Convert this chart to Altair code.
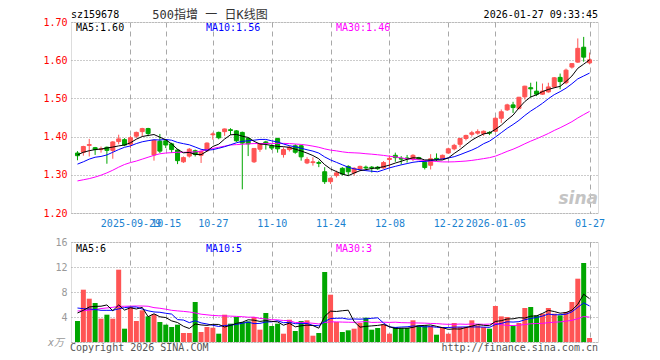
import altair as alt
import pandas as pd

dates = [
    "2025-09-16", "2025-09-17", "2025-09-18", "2025-09-19", "2025-09-22", "2025-09-23", "2025-09-24", "2025-09-25",
    "2025-09-26", "2025-09-29", "2025-09-30",
    "2025-10-09", "2025-10-10", "2025-10-13", "2025-10-14", "2025-10-15", "2025-10-16", "2025-10-17", "2025-10-20",
    "2025-10-21", "2025-10-22", "2025-10-23", "2025-10-24", "2025-10-27", "2025-10-28", "2025-10-29", "2025-10-30",
    "2025-10-31",
    "2025-11-03", "2025-11-04", "2025-11-05", "2025-11-06", "2025-11-07", "2025-11-10", "2025-11-11", "2025-11-12",
    "2025-11-13", "2025-11-14", "2025-11-17", "2025-11-18", "2025-11-19", "2025-11-20", "2025-11-21", "2025-11-24",
    "2025-11-25", "2025-11-26", "2025-11-27", "2025-11-28",
    "2025-12-01", "2025-12-02", "2025-12-03", "2025-12-04", "2025-12-05", "2025-12-08", "2025-12-09", "2025-12-10",
    "2025-12-11", "2025-12-12", "2025-12-15", "2025-12-16", "2025-12-17", "2025-12-18", "2025-12-19", "2025-12-22",
    "2025-12-23", "2025-12-24", "2025-12-25", "2025-12-26", "2025-12-29", "2025-12-30", "2025-12-31",
    "2026-01-05", "2026-01-06", "2026-01-07", "2026-01-08", "2026-01-09", "2026-01-12", "2026-01-13", "2026-01-14",
    "2026-01-15", "2026-01-16", "2026-01-19", "2026-01-20", "2026-01-21", "2026-01-22", "2026-01-23", "2026-01-26",
    "2026-01-27",
]

opens = [
    1.357, 1.359, 1.377, 1.371, 1.366, 1.372, 1.364, 1.387, 1.392, 1.380,
    1.401, 1.413, 1.421, 1.352, 1.388, 1.389, 1.381, 1.365, 1.334, 1.349,
    1.363, 1.351, 1.363, 1.405, 1.411, 1.413, 1.418, 1.415, 1.411, 1.395,
    1.334, 1.367, 1.386, 1.376, 1.395, 1.353, 1.366, 1.376, 1.376, 1.331,
    1.332, 1.332, 1.308, 1.282, 1.298, 1.317, 1.322, 1.305, 1.315, 1.320,
    1.320, 1.320, 1.318, 1.340, 1.351, 1.343, 1.344, 1.342, 1.345, 1.333,
    1.325, 1.343, 1.342, 1.357, 1.368, 1.380, 1.395, 1.406, 1.409, 1.408,
    1.411, 1.414, 1.448, 1.470, 1.483, 1.474, 1.504, 1.528, 1.519, 1.511,
    1.517, 1.530, 1.555, 1.541, 1.582, 1.595, 1.634, 1.593,
]
highs = [
    1.362, 1.376, 1.394, 1.373, 1.374, 1.374, 1.388, 1.405, 1.396, 1.402,
    1.413, 1.423, 1.423, 1.392, 1.407, 1.392, 1.384, 1.368, 1.348, 1.370,
    1.366, 1.364, 1.385, 1.411, 1.413, 1.421, 1.422, 1.417, 1.413, 1.397,
    1.370, 1.383, 1.389, 1.380, 1.397, 1.372, 1.376, 1.380, 1.378, 1.346,
    1.346, 1.337, 1.320, 1.293, 1.311, 1.320, 1.325, 1.320, 1.324, 1.324,
    1.323, 1.323, 1.336, 1.351, 1.358, 1.349, 1.352, 1.354, 1.347, 1.335,
    1.354, 1.356, 1.353, 1.371, 1.381, 1.397, 1.405, 1.415, 1.419, 1.416,
    1.414, 1.451, 1.471, 1.486, 1.491, 1.504, 1.533, 1.541, 1.544, 1.539,
    1.541, 1.556, 1.565, 1.578, 1.592, 1.657, 1.661, 1.620,
]
lows = [
    1.338, 1.350, 1.348, 1.352, 1.358, 1.329, 1.342, 1.380, 1.375, 1.370,
    1.396, 1.401, 1.401, 1.337, 1.357, 1.370, 1.357, 1.328, 1.331, 1.345,
    1.348, 1.331, 1.360, 1.392, 1.393, 1.402, 1.404, 1.386, 1.262, 1.349,
    1.331, 1.360, 1.366, 1.365, 1.358, 1.345, 1.361, 1.355, 1.337, 1.328,
    1.324, 1.320, 1.276, 1.276, 1.293, 1.298, 1.298, 1.298, 1.311, 1.313,
    1.306, 1.313, 1.316, 1.319, 1.334, 1.327, 1.332, 1.336, 1.339, 1.314,
    1.314, 1.336, 1.340, 1.355, 1.364, 1.372, 1.390, 1.400, 1.405, 1.402,
    1.404, 1.412, 1.436, 1.467, 1.462, 1.471, 1.497, 1.502, 1.506, 1.509,
    1.515, 1.527, 1.524, 1.537, 1.578, 1.593, 1.596, 1.589,
]
closes = [
    1.350, 1.374, 1.379, 1.366, 1.368, 1.364, 1.386, 1.394, 1.378, 1.397,
    1.411, 1.421, 1.408, 1.390, 1.362, 1.378, 1.366, 1.337, 1.345, 1.367,
    1.353, 1.361, 1.383, 1.407, 1.397, 1.420, 1.416, 1.389, 1.383, 1.381,
    1.369, 1.381, 1.383, 1.370, 1.368, 1.366, 1.372, 1.359, 1.347, 1.340,
    1.334, 1.330, 1.282, 1.291, 1.305, 1.302, 1.308, 1.317, 1.322, 1.318,
    1.318, 1.316, 1.332, 1.343, 1.345, 1.341, 1.342, 1.351, 1.341, 1.319,
    1.342, 1.341, 1.351, 1.368, 1.377, 1.395, 1.403, 1.410, 1.413, 1.414,
    1.409, 1.448, 1.465, 1.483, 1.476, 1.503, 1.532, 1.525, 1.511, 1.519,
    1.530, 1.554, 1.544, 1.574, 1.591, 1.631, 1.608, 1.601,
]
volumes = [
    3.36, 8.37, 6.93, 6.24, 3.73, 4.37, 3.73, 11.57, 2.13, 5.6,
    3.36, 5.07, 4.1, 4.43, 3.2, 2.77, 2.4, 2.77, 1.44, 1.44,
    6.4, 1.6, 2.4, 2.29, 1.33, 4.37, 2.93, 4.0, 3.2, 3.3,
    4.0, 1.97, 4.64, 2.56, 2.93, 1.33, 3.57, 1.76, 3.36, 3.47,
    1.01, 1.44, 11.2, 7.57, 3.2, 1.6, 1.87, 2.13, 3.04, 3.89,
    1.97, 2.24, 2.83, 1.33, 2.4, 2.24, 2.24, 3.47, 2.67, 2.67,
    2.56, 1.17, 2.4, 1.33, 3.04, 2.4, 2.4, 3.47, 2.67, 2.4,
    2.13, 5.76, 4.1, 4.0, 2.56, 3.04, 5.44, 5.6, 4.27, 4.53,
    5.44, 4.53, 4.27, 4.8, 6.4, 10.13, 12.64, 0.64,
]

# moving-average values at the left edge (their history lies before the chart)
ma5_head = [1.352, 1.359, 1.363, 1.366]
ma10_head = [1.328, 1.334, 1.341, 1.346, 1.348, 1.352, 1.359, 1.366, 1.372]
ma30_head = [1.284, 1.287, 1.290, 1.294, 1.299, 1.305, 1.312, 1.320, 1.327, 1.332,
             1.336, 1.341, 1.346, 1.351, 1.355, 1.357, 1.358, 1.359, 1.359, 1.359,
             1.360, 1.362, 1.366, 1.369, 1.372, 1.375, 1.378, 1.379, 1.380]
vma5_head = [4.64, 5.07, 5.6, 5.7]
vma10_head = [5.44, 5.33, 5.28, 5.2, 5.07, 5.07, 5.07, 5.3, 5.5]
vma30_head = [4.96, 5.02, 5.1, 5.2, 5.35, 5.45, 5.55, 5.7, 5.72, 5.74,
              5.76, 5.76, 5.72, 5.5, 5.4, 5.25, 5.07, 4.98, 4.9, 4.8,
              4.65, 4.45, 4.35, 4.25, 4.2, 4.17, 4.14, 4.1, 4.05]

tick_dates = ["2025-09-29", "2025-10-15", "2025-10-27", "2025-11-10", "2025-11-24",
              "2025-12-08", "2025-12-22", "2026-01-05", "2026-01-27"]
tick_labels = ["2025-09-29", "10-15", "10-27", "11-10", "11-24", "12-08", "12-22", "2026-01-05", "01-27"]

price_ticks = [1.2, 1.3, 1.4, 1.5, 1.6, 1.7]
vol_ticks = [0, 4, 8, 12, 16]

code = "sz159678"
title = "500指增 一 日K线图"
stamp = "2026-01-27 09:33:45"
price_legend = ["MA5:1.60", "MA10:1.56", "MA30:1.46"]
vol_legend = ["MA5:6", "MA10:5", "MA30:3"]
copyright_text = "Copyright 2026 SINA.COM"
url_text = "http://finance.sina.com.cn"
unit_text = "x万"

# ---------------------------------------------------------------- build table
def moving(values, n, head):
    roll = pd.Series(values, dtype=float).rolling(n).mean().tolist()
    return list(head) + roll[len(head):]

df = pd.DataFrame({
    "idx": list(range(len(dates))),
    "date": dates,
    "open": opens, "high": highs, "low": lows, "close": closes, "vol": volumes,
})
df["dir"] = ["up" if c >= o else "down" for o, c in zip(opens, closes)]
df["ma5"] = moving(closes, 5, ma5_head)
df["ma10"] = moving(closes, 10, ma10_head)
df["ma30"] = moving(closes, 30, ma30_head)
df["vma5"] = moving(volumes, 5, vma5_head)
df["vma10"] = moving(volumes, 10, vma10_head)
df["vma30"] = moving(volumes, 30, vma30_head)

tick_idx = [dates.index(d) for d in tick_dates]
label_expr = "''"
for i, lab in reversed(list(zip(tick_idx, tick_labels))):
    label_expr = f"datum.value == {i} ? '{lab}' : ({label_expr})"

MONO = "DejaVu Sans Mono"
W, H1, H2 = 527, 191, 100
UP, DOWN = "#ff5454", "#00a600"
MA_COLORS = ["#000000", "#0000ff", "#ff00ff"]
GRID = "#a8a8a8"

n = len(dates)
xs = alt.Scale(domain=[-0.25, n - 1 + 0.583], nice=False, zero=False)
cscale = alt.Scale(domain=["up", "down"], range=[UP, DOWN])

x_price_axis = alt.Axis(values=tick_idx, labelExpr=label_expr, grid=True, gridDash=[5, 4],
                        gridColor=GRID, domain=False, ticks=False, tickSize=0, labelPadding=5,
                        labelColor="#1a82d0", labelFont=MONO, labelFontSize=10,
                        labelOverlap=False, labelFlush=False, labelBound=False)
x_vol_axis = alt.Axis(values=tick_idx, labels=False, grid=True, gridDash=[5, 4], gridColor=GRID,
                      domain=False, ticks=False, tickSize=0)
y_price_axis = alt.Axis(values=price_ticks, format=".2f", grid=True, gridDash=[1, 2], gridColor="#999999",
                        domain=False, ticks=False, tickSize=0, labelPadding=4, labelColor="#ff0000",
                        labelFont=MONO, labelFontSize=10, labelOverlap=False, labelFlush=False)
y_vol_axis = alt.Axis(values=vol_ticks, labelExpr="datum.value == 0 ? '' : datum.label", grid=True,
                      gridDash=[1, 2], gridColor="#999999", domain=False, ticks=False, tickSize=0,
                      labelPadding=4, labelColor="#999999", labelFont=MONO, labelFontSize=10,
                      labelOverlap=False, labelFlush=False)

yp = alt.Scale(domain=[1.2, 1.7], nice=False, zero=False)
yv = alt.Scale(domain=[0, 16], nice=False, zero=False)

XP = alt.X("idx:Q", scale=xs, axis=x_price_axis, title=None)
XV = alt.X("idx:Q", scale=xs, axis=x_vol_axis, title=None)

base = alt.Chart(df)


def label(text, x, y, color="#000000", align="left", size=10, font=MONO, **kw):
    return alt.Chart(pd.DataFrame({"t": [text]})).mark_text(
        align=align, baseline="middle", font=font, fontSize=size, color=color, **kw
    ).encode(x=alt.value(x), y=alt.value(y), text="t:N")


wick = base.mark_rule(strokeWidth=1).encode(
    x=XP,
    y=alt.Y("low:Q", scale=yp, axis=y_price_axis, title=None),
    y2="high:Q",
    color=alt.Color("dir:N", scale=cscale, legend=None),
)
body = base.mark_bar(size=4, strokeWidth=1).encode(
    x=XP,
    y=alt.Y("open:Q", scale=yp, axis=y_price_axis, title=None),
    y2="close:Q",
    color=alt.Color("dir:N", scale=cscale, legend=None),
    stroke=alt.Stroke("dir:N", scale=cscale, legend=None),
)
price_lines = [
    base.mark_line(strokeWidth=1, color=c).encode(
        x=XP, y=alt.Y(f"{f}:Q", scale=yp, axis=y_price_axis, title=None))
    for f, c in zip(["ma30", "ma10", "ma5"], MA_COLORS[::-1])
]
legend_x = [5, 135, 265]
price_texts = [label(t, x, 6, color=c) for t, x, c in zip(price_legend, legend_x, MA_COLORS)]
header = [
    label(code, 0, -7),
    label(title, 139, -7, color="#333333", align="center", size=12, font=f"{MONO}, Noto Sans CJK SC"),
    label(stamp, W, -7, align="right"),
    label("sina", W, 177, color="#c4c4c4", align="right", size=17, font="DejaVu Sans",
          fontStyle="italic", fontWeight="bold"),
]

price = alt.layer(wick, body, *price_lines, *price_texts, *header).properties(width=W, height=H1)

bars = base.mark_bar(size=5).encode(
    x=XV,
    y=alt.Y("vol:Q", scale=yv, axis=y_vol_axis, title=None),
    color=alt.Color("dir:N", scale=cscale, legend=None),
)
vol_lines = [
    base.mark_line(strokeWidth=1, color=c).encode(
        x=XV, y=alt.Y(f"{f}:Q", scale=yv, axis=y_vol_axis, title=None))
    for f, c in zip(["vma30", "vma10", "vma5"], MA_COLORS[::-1])
]
vol_texts = [label(t, x, 7, color=c) for t, x, c in zip(vol_legend, legend_x, MA_COLORS)]
footer = [
    label(copyright_text, -1, 106, color="#555555"),
    label(url_text, W, 106, color="#555555", align="right"),
    label(unit_text, -7, 101, color="#999999", align="right", font=f"{MONO}, Noto Sans CJK SC",
          fontStyle="italic"),
]
volume = alt.layer(bars, *vol_lines, *vol_texts, *footer).properties(width=W, height=H2)

chart = alt.vconcat(price, volume, spacing=29, bounds="flush").properties(
    padding={"left": 34, "top": 0, "right": 0, "bottom": 0}
).configure_view(stroke="#999999", strokeWidth=1).configure(background="white")

chart.save("out.html", embed_options={"renderer": "svg", "actions": False})
